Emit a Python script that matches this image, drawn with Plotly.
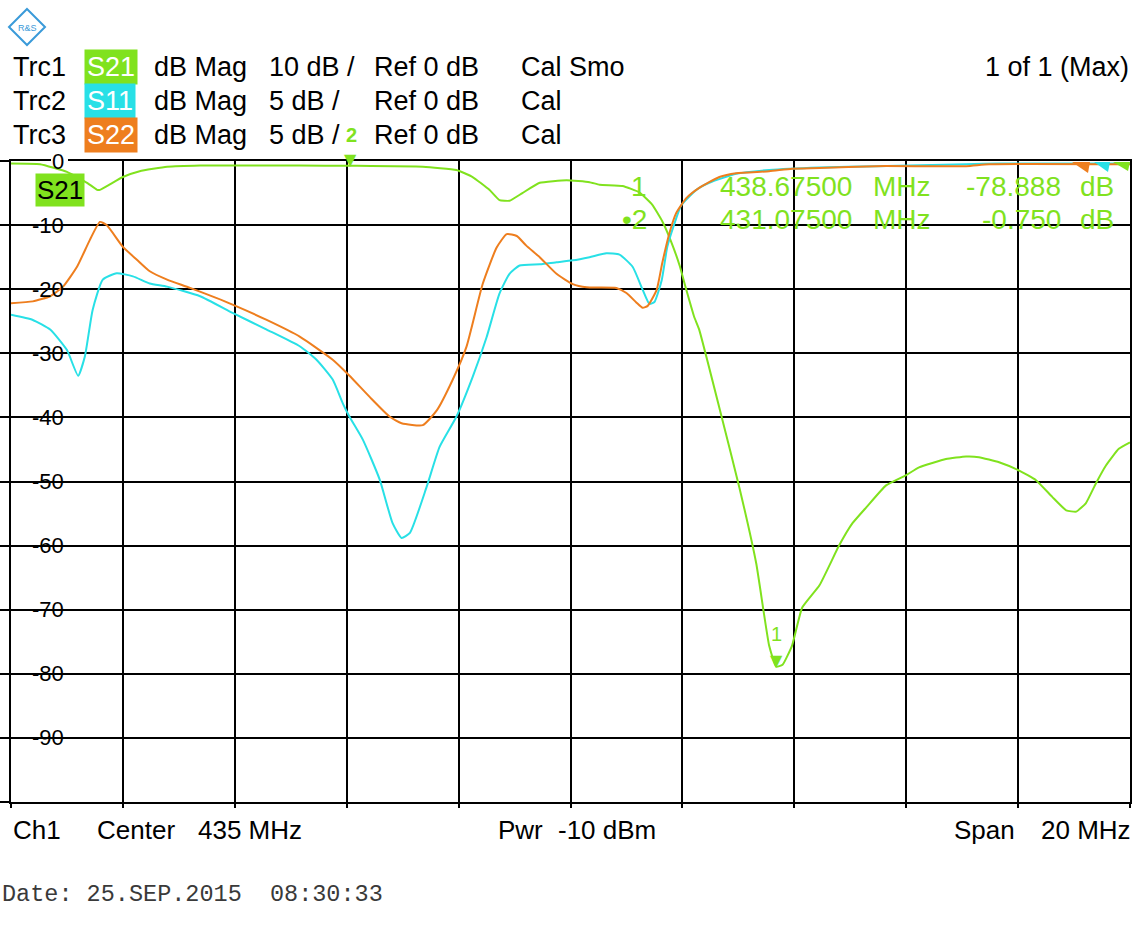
import plotly.graph_objects as go

# ---------------- data ----------------
freq_s21 = [425.00, 425.52, 426.00, 426.36, 426.54, 426.59, 427.00, 427.30, 427.79, 428.38,
            430.16, 431.075, 432.36, 432.96, 433.25, 433.55, 433.73, 433.91, 434.14, 434.45,
            434.93, 435.34, 435.52, 435.93, 436.23, 436.46, 436.64, 436.80, 436.95, 437.07,
            437.21, 437.30, 437.71, 438.02, 438.32, 438.55, 438.675, 438.79, 438.96, 439.14,
            439.45, 439.80, 440.04, 440.29, 440.64, 441.00, 441.23, 441.71, 442.07, 442.30,
            442.66, 443.02, 443.32, 443.61, 443.86, 444.04, 444.21, 444.39, 444.57, 444.80, 445.00]
s21_db = [-0.4, -0.5, -1.7, -3.4, -4.5, -4.5, -2.5, -1.6, -0.9, -0.7,
          -0.7, -0.75, -0.9, -1.4, -2.5, -4.5, -6.1, -6.2, -5.0, -3.4,
          -3.0, -3.3, -3.7, -3.9, -4.9, -6.8, -9.4, -12.6, -16.3, -20.1,
          -24.3, -26.3, -40.2, -51.0, -62.8, -75.6, -78.888, -78.6, -75.6, -69.7,
          -66.2, -60.0, -56.5, -54.0, -50.6, -49.0, -47.8, -46.5, -46.1, -46.2,
          -47.0, -48.3, -49.8, -52.4, -54.5, -54.7, -53.4, -50.3, -47.5, -44.9, -43.9]

freq_s11 = [425.00, 425.39, 425.70, 426.00, 426.20, 426.32, 426.46, 426.64, 426.89, 427.18,
            427.48, 427.79, 428.38, 428.96, 429.57, 430.16, 430.46, 430.75, 430.93, 431.05,
            431.29, 431.59, 431.82, 431.98, 432.13, 432.43, 432.66, 432.96, 433.25, 433.50,
            433.73, 433.91, 434.09, 434.45, 434.75, 435.04, 435.34, 435.64, 435.875, 436.11,
            436.29, 436.41, 436.50, 436.63, 436.73, 436.86, 436.98, 437.25, 437.48, 437.96,
            438.55, 439.45, 440.46, 442.07, 442.66, 445.00]
s11_db = [-12.0, -12.4, -13.15, -14.75, -16.75, -15.25, -11.6, -9.25, -8.75, -9.0,
          -9.55, -9.8, -10.55, -11.85, -13.15, -14.45, -15.5, -17.05, -18.9, -19.95,
          -21.75, -24.85, -28.25, -29.4, -29.0, -25.4, -22.3, -19.95, -16.85, -13.75,
          -10.35, -8.8, -8.15, -8.05, -7.9, -7.75, -7.5, -7.2, -7.3, -8.25,
          -10.05, -11.15, -11.0, -9.3, -6.7, -4.85, -3.45, -2.25, -1.7, -1.0,
          -0.7, -0.5, -0.4, -0.25, -0.2, -0.2]

freq_s22 = [425.00, 425.39, 425.70, 425.93, 426.18, 426.41, 426.59, 426.71, 427.00, 427.25,
            427.48, 427.79, 428.20, 428.96, 429.57, 430.16, 430.75, 431.05, 431.41, 431.77,
            431.98, 432.36, 432.61, 432.89, 433.14, 433.43, 433.68, 433.86, 434.04, 434.21,
            434.45, 434.75, 435.04, 435.29, 435.82, 436.00, 436.18, 436.29, 436.38, 436.54,
            436.64, 436.77, 436.89, 437.07, 437.30, 437.66, 437.96, 438.55, 438.96, 439.45,
            440.46, 442.07, 442.48, 445.00]
s22_db = [-11.1, -10.95, -10.55, -9.8, -8.25, -6.15, -4.75, -5.0, -6.7, -7.7,
          -8.6, -9.25, -9.9, -11.2, -12.4, -13.7, -15.5, -16.75, -18.4, -19.95,
          -20.45, -20.6, -19.45, -17.1, -14.5, -9.6, -6.75, -5.7, -5.85, -6.6,
          -7.5, -8.8, -9.6, -9.85, -9.9, -10.3, -11.05, -11.45, -11.3, -10.05,
          -7.95, -5.6, -4.05, -2.9, -2.1, -1.25, -0.95, -0.8, -0.6, -0.55,
          -0.4, -0.4, -0.25, -0.25]

marker_freq = [438.675, 431.075]
marker_db = [-78.888, -0.750]
marker_names = ["1", "2"]

y_ticks = [0, -10, -20, -30, -40, -50, -60, -70, -80, -90]

GREEN = "#80E21E"
CYAN = "#28E0E6"
ORANGE = "#EE7E1E"
FONT = "Liberation Sans, Arial, sans-serif"

W, H = 1140, 938
L, R, T, B = 11, 10, 161, 136
PW, PH = W - L - R, H - T - B


def px(x):
    return (x - L) / PW


def py(y):
    return (H - B - y) / PH


fig = go.Figure()
fig.add_trace(go.Scatter(x=freq_s11, y=s11_db, mode="lines", yaxis="y2",
                         line=dict(color=CYAN, width=2, shape="spline", smoothing=0.5), name="S11"))
fig.add_trace(go.Scatter(x=freq_s22, y=s22_db, mode="lines", yaxis="y2",
                         line=dict(color=ORANGE, width=2, shape="spline", smoothing=0.5), name="S22"))
fig.add_trace(go.Scatter(x=freq_s21, y=s21_db, mode="lines",
                         line=dict(color=GREEN, width=2, shape="spline", smoothing=0.4), name="S21"))

ann = []
shapes = []


def txt(x, y, s, size=27, color="black", anchor="left", bg=None, family=FONT, pad=0):
    d = dict(x=px(x), y=py(y), xref="paper", yref="paper", text=s, showarrow=False,
             xanchor=anchor, yanchor="middle",
             font=dict(size=size, color=color, family=family), borderpad=pad)
    if bg:
        d["bgcolor"] = bg
    ann.append(d)


def path(points, color, fill=True, width=0, layer="above"):
    p = "M " + " L ".join("%f,%f" % (px(a), py(b)) for a, b in points) + " Z"
    d = dict(type="path", path=p, xref="paper", yref="paper", layer=layer,
             line=dict(color=color, width=width))
    if fill:
        d["fillcolor"] = color
    shapes.append(d)


# header
rows = [(67, "Trc1", "S21", GREEN, "10 dB /", "Cal Smo"),
        (101, "Trc2", "S11", CYAN, "5 dB /", "Cal"),
        (135, "Trc3", "S22", ORANGE, "5 dB /", "Cal")]
for y, trc, par, col, scale, cal in rows:
    txt(12, y, trc)
    txt(84, y, par, color="white", bg=col, pad=2)
    txt(153, y, "dB Mag")
    txt(268, y, scale)
    txt(373, y, "Ref 0 dB")
    txt(520, y, cal)
txt(1130, 67, "1 of 1 (Max)", anchor="right")

# y tick labels: white patch under the label hides the grid line, traces stay visible
for v in y_ticks:
    s = str(v)
    wlab = sum(7.5 if ch == "-" else 12.3 for ch in s)
    ann.append(dict(x=px(66), y=v, xref="paper", yref="y", text=s, showarrow=False,
                    xanchor="right", yanchor="middle",
                    font=dict(size=22, color="black", family=FONT)))
    shapes.append(dict(type="rect", xref="paper", yref="y", x0=px(66 - wlab - 2), x1=px(68),
                       y0=v - 1.3, y1=min(v + 1.3, 0), layer="between",
                       fillcolor="white", line=dict(width=0)))
# break in the top border behind "0"
path([(51, 158), (68, 158), (68, 164), (51, 164)], "white")

# trace label in the grid
txt(35, 190, "S21", size=26, bg=GREEN, pad=1)

# marker readout
txt(648, 186, "1", size=28, color=GREEN, anchor="right")
txt(648, 220, "\u20222", size=28, color=GREEN, anchor="right")
txt(719, 186, "438.67500", size=28, color=GREEN)
txt(719, 220, "431.07500", size=28, color=GREEN)
txt(872, 186, "MHz", size=28, color=GREEN)
txt(872, 220, "MHz", size=28, color=GREEN)
txt(1062, 186, "%.3f" % marker_db[0], size=28, color=GREEN, anchor="right")
txt(1062, 220, "%.3f" % marker_db[1], size=28, color=GREEN, anchor="right")
txt(1079, 186, "dB", size=28, color=GREEN)
txt(1079, 220, "dB", size=28, color=GREEN)

# marker triangles on the trace
for f, v, n in zip(marker_freq, marker_db, marker_names):
    ann.append(dict(x=f, y=v, xref="x", yref="y", text="\u25BC", showarrow=False,
                    xanchor="center", yanchor="bottom", yshift=-5,
                    font=dict(size=16, color=GREEN, family="DejaVu Sans")))
ann.append(dict(x=marker_freq[0], y=marker_db[0], xref="x", yref="y", text="1", showarrow=False,
                xanchor="center", yanchor="bottom", yshift=20,
                font=dict(size=20, color=GREEN, family=FONT)))
txt(351, 135, "<b>2</b>", size=20, color=GREEN, anchor="center")

# footer
txt(12, 830, "Ch1", size=26)
txt(96, 830, "Center", size=26)
txt(197, 830, "435 MHz", size=26)
txt(497, 830, "Pwr", size=26)
txt(557, 830, "-10 dBm", size=26)
txt(953, 830, "Span", size=26)
txt(1132, 830, "20 MHz", size=26, anchor="right")
txt(1, 895, "Date: 25.SEP.2015  08:30:33".replace(" ", "\u00a0"), size=23.5, color="#3a3a3a",
    family="Liberation Mono, Courier New, monospace")

# R&S logo
txt(27, 28, "R&S", size=9, color="#3a9ad9", anchor="center")
path([(27, 9), (45, 27), (27, 45), (9, 27)], "#3a9ad9", fill=False, width=2)
# reference-position triangles at the right edge
path([(1072, 162), (1090, 162), (1088, 173)], ORANGE)
path([(1094, 162), (1110, 162), (1108, 172)], CYAN)
path([(1113, 162), (1130, 162), (1128, 171)], GREEN)

fig.update_layout(
    width=W, height=H, margin=dict(l=L, r=R, t=T, b=B, autoexpand=False), paper_bgcolor="white",
    plot_bgcolor="white", showlegend=False, annotations=ann, shapes=shapes,
    xaxis=dict(range=[425, 445], dtick=2, tick0=425, showgrid=True, gridcolor="black",
               gridwidth=2, zeroline=False, showline=True, mirror=True, linecolor="black",
               linewidth=2, ticks="outside", ticklen=4, tickwidth=2, tickcolor="black",
               showticklabels=False, automargin=False),
    yaxis=dict(range=[-100, 0], dtick=10, tick0=0, showgrid=True, gridcolor="black",
               gridwidth=2, zeroline=False, showline=True, mirror=True, linecolor="black",
               linewidth=2, ticks="outside", ticklen=11, tickwidth=2, tickcolor="black",
               showticklabels=False, automargin=False),
    yaxis2=dict(range=[-50, 0], overlaying="y", visible=False),
)

fig.write_html("out.html", config={"displayModeBar": False},
               post_script="document.body.style.margin='0';document.body.style.overflow='hidden';")
